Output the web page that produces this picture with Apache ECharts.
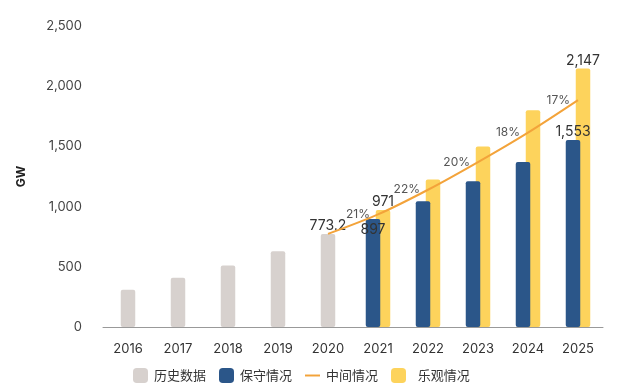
<!DOCTYPE html>
<html><head><meta charset="utf-8">
<script src="https://cdn.jsdelivr.net/npm/echarts@6/dist/echarts.min.js"></script>
<style>html,body{margin:0;padding:0;background:#fff}#c{width:640px;height:390px}</style>
</head><body><div id="c"></div>
<script>
const years = ['2016','2017','2018','2019','2020','2021','2022','2023','2024','2025'];
const history = [310, 410, 510, 630, 773.2, null, null, null, null, null];
const conservative = [null, null, null, null, null, 897, 1045, 1210, 1370, 1553];
const optimistic = [null, null, null, null, null, 971, 1225, 1500, 1800, 2147];
const middle = [null, null, null, null, 773.2, 935, 1140, 1370, 1615, 1885];
const middleGrowth = [null, null, null, null, null, '21%', '22%', '20%', '18%', '17%'];
const yTicks = [0, 500, 1000, 1500, 2000, 2500];
const labelled = { history: [4], conservative: [9], optimistic: [5, 9] };

const latin = 'Inter, "Noto Sans CJK SC", sans-serif';
const valLabel = { show: true, position: 'top', distance: 1, color: '#333', fontSize: 14, fontFamily: latin,
  formatter: p => p.value == null ? '' : p.value.toLocaleString('en-US') };

function withLabels(arr, idxs, extra) {
  return arr.map((v, i) => {
    if (v == null) return null;
    if (idxs.includes(i)) return { value: v, label: Object.assign({}, valLabel, extra || {}) };
    return { value: v, label: { show: false } };
  });
}

const chart = echarts.init(document.getElementById('c'));
chart.setOption({
  animation: false,
  textStyle: { fontFamily: latin },
  grid: { left: 103, right: 37, top: 26, bottom: 63 },
  legend: {
    left: 128, bottom: 2, itemWidth: 15, itemHeight: 15, itemGap: 13,
    textStyle: { fontFamily: '"Noto Sans CJK SC", sans-serif', fontSize: 13, color: '#333', padding: [0, 0, 0, 1] },
    formatter: n => n === '乐观情况' ? '  ' + n : n,
    data: [
      { name: '历史数据', icon: 'roundRect' },
      { name: '保守情况', icon: 'roundRect' },
      { name: '中间情况', icon: 'path://M0,0 L20,0 L20,2.6 L0,2.6 Z', itemStyle: { color: '#f3a33a' } },
      { name: '乐观情况', icon: 'roundRect' }
    ]
  },
  xAxis: [
    { type: 'category', data: years,
      axisLine: { lineStyle: { color: '#999', width: 1 } }, axisTick: { show: false },
      axisLabel: { color: '#333', fontSize: 13, margin: 16, fontFamily: latin } },
    { type: 'category', data: years, show: false }
  ],
  yAxis: {
    type: 'value', min: yTicks[0], max: yTicks[yTicks.length - 1], interval: 500,
    name: 'GW', nameLocation: 'middle', nameRotate: 90, nameGap: 76,
    nameTextStyle: { fontWeight: 'bold', fontSize: 12, color: '#222', fontFamily: latin },
    axisLine: { show: false }, axisTick: { show: false }, splitLine: { show: false },
    axisLabel: { color: '#444', fontSize: 13, margin: 21, fontFamily: latin,
      formatter: v => v.toLocaleString('en-US') }
  },
  series: [
    { name: '历史数据', type: 'bar', xAxisIndex: 1, barWidth: 14.5, z: 2,
      itemStyle: { color: '#d7d1ce', borderRadius: 2 },
      data: withLabels(history, labelled.history) },
    { name: '保守情况', type: 'bar', xAxisIndex: 0, barWidth: 14.5, barGap: '-31%', z: 4,
      itemStyle: { color: '#2b5689', borderRadius: 2 },
      data: (function () {
        const d = withLabels(conservative, labelled.conservative);
        d[5] = { value: conservative[5], label: Object.assign({}, valLabel, { position: 'insideTop', distance: 4 }) };
        return d;
      })() },
    { name: '乐观情况', type: 'bar', xAxisIndex: 0, barWidth: 14.5, barGap: '-31%', z: 3,
      itemStyle: { color: '#fdd35c', borderRadius: 2 },
      data: withLabels(optimistic, labelled.optimistic) },
    { name: '中间情况', type: 'line', xAxisIndex: 0, smooth: 0.3, showSymbol: true, symbol: 'circle', symbolSize: 0.01, z: 5,
      connectNulls: false,
      lineStyle: { color: '#f3a33a', width: 2 }, itemStyle: { color: '#f3a33a' },
      label: { show: true, position: 'left', distance: 8, color: '#555', fontSize: 12, fontFamily: latin,
        formatter: p => middleGrowth[p.dataIndex] || '' },
      data: middle }
  ]
});
</script></body></html>
